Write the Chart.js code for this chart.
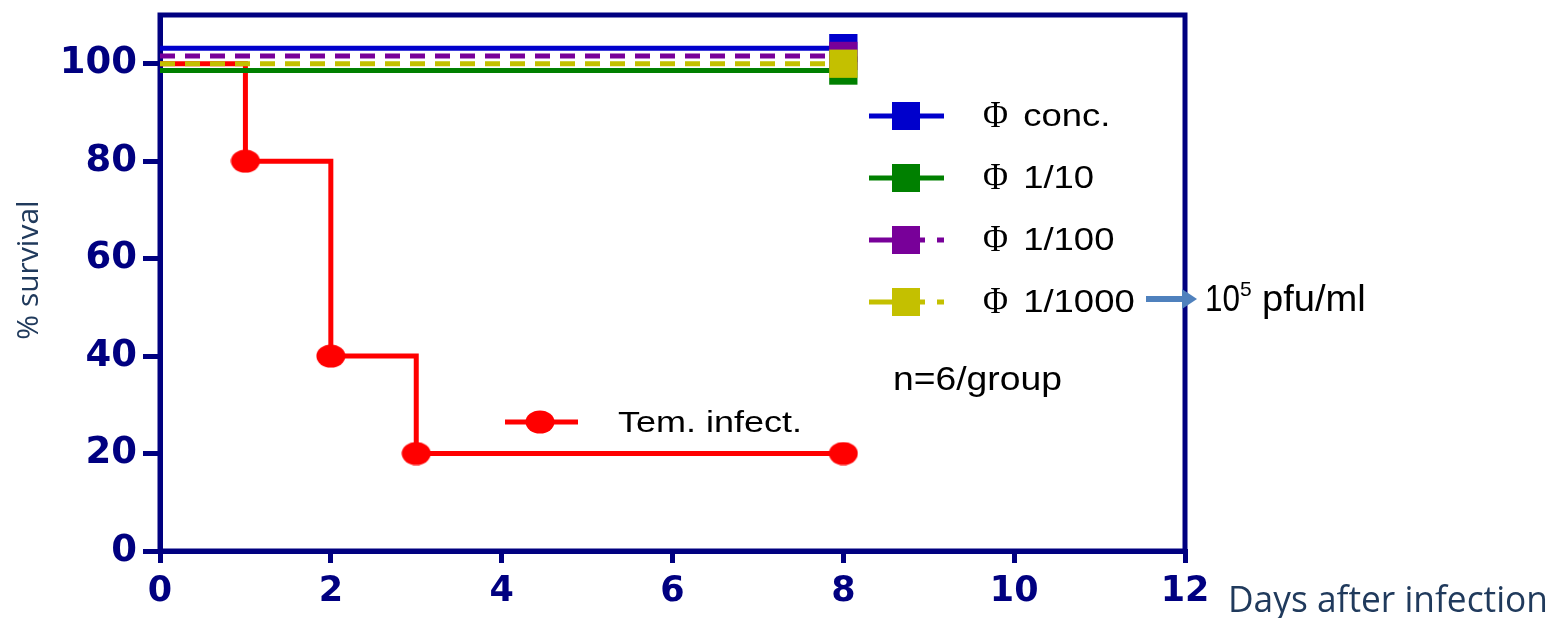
<!DOCTYPE html>
<html>
<head>
<meta charset="utf-8">
<script src="https://cdn.jsdelivr.net/npm/chart.js@4/dist/chart.umd.min.js"></script>
<style>
  html, body { margin: 0; padding: 0; background: #fff; }
  canvas { display: block; }
</style>
</head>
<body>
<canvas id="survChart" width="1552" height="618"></canvas>
<script>
// data (phage groups are drawn slightly offset around 100%)
var phDays = [0, 8];
var concSurv = [103.2, 103.2];
var d10Surv = [98.6, 98.6];
var d100Surv = [101.6, 101.6];
var d1000Surv = [100, 100];

var infDays = [0, 1, 2, 3, 8];
var infSurv = [100, 80, 40, 20, 20];

var xTicks = [0, 2, 4, 6, 8, 10, 12];
var yTicks = [0, 20, 40, 60, 80, 100];

var legendLabels = ['Φ conc.', 'Φ 1/10', 'Φ 1/100', 'Φ 1/1000'];
var infLabel = 'Tem. infect.';

var NAVY = '#000080';
var BLUE = '#0000cc';
var GREEN = '#008000';
var PURPLE = '#780099';
var YELLOW = '#c4c000';
var RED = '#ff0000';

function pts(xs, ys) {
    return xs.map(function(x, i) { return { x: x, y: ys[i] }; });
}

// red ellipse marker
var dot = document.createElement('canvas');
dot.width = 30; dot.height = 24;
var dctx = dot.getContext('2d');
dctx.fillStyle = RED;
dctx.beginPath();
dctx.ellipse(15, 12, 14.5, 11.5, 0, 0, Math.PI * 2);
dctx.fill();

function phSet(label, vals, color, dashed, order) {
    return {
        label: label,
        data: pts(phDays, vals),
        borderColor: color,
        backgroundColor: color,
        borderWidth: 5,
        borderDash: dashed ? [15, 10] : [],
        pointStyle: 'rect',
        pointRadius: [0, 20],
        pointBorderWidth: 0,
        order: order
    };
}

var framePlugin = {
    id: 'frame',
    beforeDatasetsDraw: function(chart) {
        var a = chart.chartArea, c = chart.ctx;
        c.save();
        c.strokeStyle = NAVY;
        c.lineWidth = 5;
        c.strokeRect(a.left, a.top, a.right - a.left, a.bottom - a.top);
        c.restore();
    }
};

function legendLine(c, y, color, dashed) {
    c.fillStyle = color;
    if (dashed) {
        c.fillRect(869, y - 2.5, 24, 5);
        c.fillRect(918, y - 2.5, 7, 5);
        c.fillRect(937, y - 2.5, 7, 5);
    } else {
        c.fillRect(869, y - 2.5, 75, 5);
    }
    c.fillRect(892, y - 14, 28, 28);
}

// text stretched horizontally by sx
function stretchText(c, text, x, y, font, sx) {
    c.save();
    c.font = font;
    c.translate(x, y);
    c.scale(sx, 1);
    c.fillText(text, 0, 0);
    c.restore();
}

var notesPlugin = {
    id: 'notes',
    afterDraw: function(chart) {
        var c = chart.ctx;
        c.save();
        var rows = [116, 178, 240, 302];
        var cols = [BLUE, GREEN, PURPLE, YELLOW];
        var dash = [false, false, true, true];
        c.textBaseline = 'middle';
        c.textAlign = 'left';
        for (var i = 0; i < rows.length; i++) {
            legendLine(c, rows[i], cols[i], dash[i]);
            c.fillStyle = '#000';
            stretchText(c, legendLabels[i].charAt(0), 983, rows[i] + 1, '38px "Liberation Serif"', 0.9);
            stretchText(c, legendLabels[i].slice(1), 1013, rows[i] + 1, '32px "Liberation Sans"', 1.14);
        }

        // Tem. infect. legend
        c.fillStyle = RED;
        c.fillRect(505, 419.5, 73, 5);
        c.drawImage(dot, 540 - 15, 422 - 12);
        c.fillStyle = '#000';
        stretchText(c, infLabel, 618, 424, '30px "Liberation Sans"', 1.2);

        // arrow
        c.fillStyle = '#4f81bd';
        c.fillRect(1146, 296, 38, 6);
        c.beginPath();
        c.moveTo(1182, 289);
        c.lineTo(1197, 299);
        c.lineTo(1182, 309);
        c.closePath();
        c.fill();

        c.fillStyle = '#000';
        stretchText(c, '10', 1205, 301, '37px "Liberation Sans"', 0.85);
        stretchText(c, '5', 1240, 290, '21px "Liberation Sans"', 1);
        stretchText(c, 'pfu/ml', 1262, 301, '37px "Liberation Sans"', 1.03);

        stretchText(c, 'n=6/group', 893, 381, '33px "Liberation Sans"', 1.13);

        // axis titles
        c.fillStyle = '#203a5c';
        c.font = '36px "Open Sans"';
        c.textBaseline = 'alphabetic';
        c.fillText('Days after infection', 1228, 612, 320);

        c.translate(38, 270);
        c.rotate(-Math.PI / 2);
        c.textAlign = 'center';
        c.font = '30px "Open Sans"';
        c.fillText('% survival', 0, 0, 142);
        c.restore();
    }
};

var ctx = document.getElementById('survChart').getContext('2d');

var survChart = new Chart(ctx, {
    type: 'line',
    data: {
        datasets: [
            phSet('Φ conc.', concSurv, BLUE, false, 2),
            phSet('Φ 1/10', d10Surv, GREEN, false, 3),
            phSet('Φ 1/100', d100Surv, PURPLE, true, 1),
            phSet('Φ 1/1000', d1000Surv, YELLOW, true, 0),
            {
                label: infLabel,
                data: pts(infDays, infSurv),
                borderColor: RED,
                backgroundColor: RED,
                borderWidth: 5,
                stepped: 'before',
                pointStyle: dot,
                pointRadius: [0, 12, 12, 12, 12],
                order: 4
            }
        ]
    },
    options: {
        responsive: false,
        animation: false,
        devicePixelRatio: 1,
        layout: { autoPadding: false, padding: { top: 15, right: 367, left: 0, bottom: 0 } },
        plugins: {
            legend: { display: false },
            tooltip: { enabled: false }
        },
        scales: {
            x: {
                type: 'linear',
                min: 0,
                max: 12,
                afterBuildTicks: function(scale) {
                    scale.ticks = xTicks.map(function(v) { return { value: v }; });
                },
                afterFit: function(scale) {
                    scale.height = 67;
                    scale.paddingLeft = 0;
                    scale.paddingRight = 0;
                },
                border: { color: NAVY, width: 5 },
                grid: { drawOnChartArea: false, drawTicks: true, tickLength: 12, color: NAVY, tickColor: NAVY, lineWidth: 5, tickWidth: 5 },
                ticks: {
                    color: NAVY,
                    padding: 8,
                    maxRotation: 0,
                    font: { family: 'DejaVu Sans', size: 35, weight: 'bold' }
                }
            },
            y: {
                min: 0,
                max: 110,
                afterBuildTicks: function(scale) {
                    scale.ticks = yTicks.map(function(v) { return { value: v }; });
                },
                afterFit: function(scale) {
                    scale.width = 160;
                    scale.paddingTop = 0;
                    scale.paddingBottom = 0;
                },
                border: { color: NAVY, width: 5 },
                grid: { drawOnChartArea: false, drawTicks: true, tickLength: 17, color: NAVY, tickColor: NAVY, lineWidth: 5, tickWidth: 5 },
                ticks: {
                    color: NAVY,
                    padding: 6,
                    font: { family: 'DejaVu Sans', size: 37, weight: 'bold' }
                }
            }
        }
    },
    plugins: [framePlugin, notesPlugin]
});
</script>
</body>
</html>
